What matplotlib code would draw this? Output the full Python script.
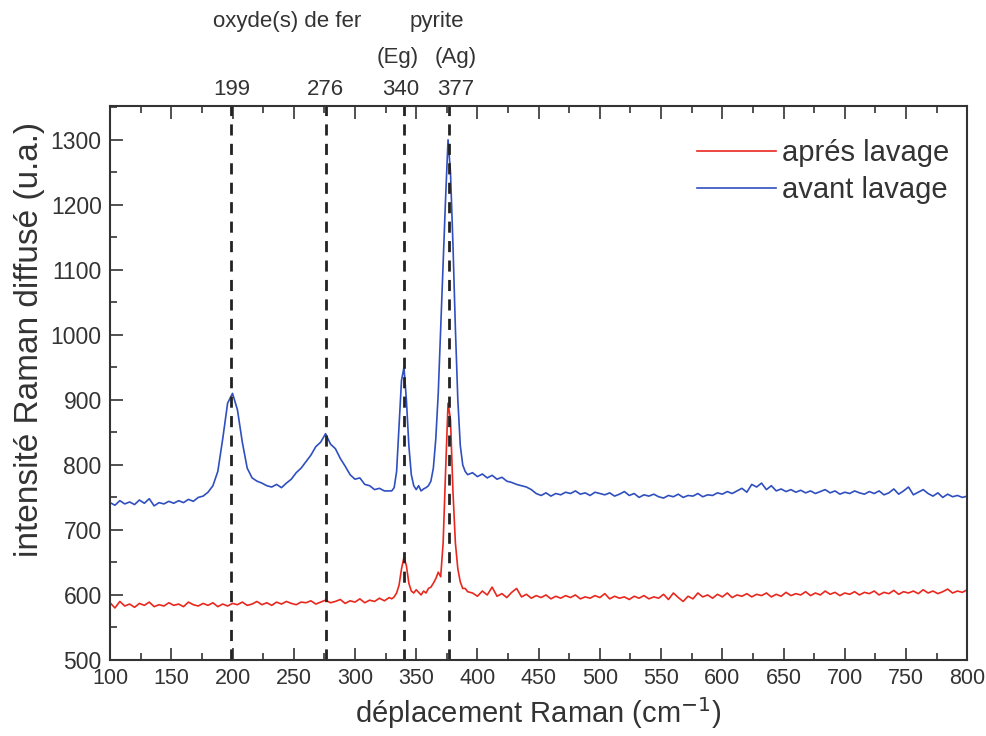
import matplotlib
matplotlib.use("Agg")
import matplotlib.pyplot as plt
from matplotlib.ticker import MultipleLocator

plt.rcParams['font.family'] = ['Liberation Sans', 'DejaVu Sans']

# sampling grid (cm-1)
wavenumber = list(range(100, 330, 4)) + list(range(330, 394, 2)) + list(range(396, 801, 4))

# avant lavage (blue)
blue_low = [742, 738, 745, 740, 743, 739, 746, 741, 748, 737,
            742, 740, 744, 741, 745, 742, 747, 744, 750, 752,
            758, 768, 790, 840, 895, 910, 885, 835, 795, 780,
            775, 772, 768, 766, 770, 765, 772, 778, 788, 795,
            805, 815, 828, 835, 848, 832, 825, 810, 798, 785,
            778, 780, 770, 768, 762, 764, 760, 760]
blue_mid = [760, 765, 790, 860, 930, 950, 900, 830, 785, 768,
            762, 768, 760, 763, 765, 768, 775, 795, 840, 910,
            1010, 1110, 1210, 1300, 1250, 1140, 1010, 900, 830, 800,
            790, 785]
blue_high = [788, 782, 786, 780, 784, 778, 781, 775, 773, 770,
             768, 766, 762, 756, 753, 757, 752, 756, 754, 758,
             756, 760, 755, 757, 753, 758, 756, 754, 757, 752,
             755, 759, 753, 756, 750, 754, 752, 755, 751, 749,
             753, 751, 755, 750, 753, 752, 756, 751, 754, 753,
             757, 755, 759, 756, 760, 764, 758, 770, 766, 772,
             762, 768, 760, 763, 759, 762, 758, 761, 757, 760,
             756, 759, 762, 757, 760, 755, 758, 756, 760, 757,
             755, 759, 756, 760, 754, 757, 763, 755, 760, 766,
             754, 758, 762, 756, 752, 757, 750, 755, 751, 753,
             750, 752]
avant = blue_low + blue_mid + blue_high

# apres lavage (red)
red_low = [588, 580, 590, 583, 586, 581, 587, 584, 589, 582,
           585, 583, 588, 584, 586, 582, 589, 585, 583, 587,
           584, 588, 582, 586, 583, 587, 585, 589, 584, 586,
           590, 585, 588, 584, 589, 586, 590, 587, 585, 589,
           588, 591, 586, 589, 592, 588, 590, 593, 587, 591,
           589, 594, 588, 592, 590, 595, 591, 596]
red_mid = [594, 597, 603, 615, 640, 658, 645, 618, 606, 603,
           608, 604, 600, 606, 603, 610, 612, 618, 625, 635,
           628, 680, 790, 895, 870, 760, 680, 640, 620, 610,
           610, 605]
red_high = [603, 598, 606, 600, 612, 598, 602, 596, 604, 610,
            597, 601, 595, 599, 596, 600, 594, 598, 595, 599,
            596, 600, 594, 597, 595, 599, 596, 602, 594, 598,
            595, 597, 593, 598, 595, 599, 594, 597, 595, 601,
            593, 603, 596, 590, 598, 594, 603, 597, 600, 595,
            601, 597, 603, 596, 600, 598, 602, 597, 601, 599,
            603, 597, 601, 598, 604, 599, 602, 600, 605, 599,
            603, 600, 606, 601, 604, 599, 603, 601, 605, 600,
            604, 602, 606, 600, 604, 602, 607, 601, 605, 603,
            606, 602, 608, 603, 606, 602, 605, 609, 603, 606,
            604, 608]
apres = red_low + red_mid + red_high

peaks = [199, 276, 340, 377]
peak_labels = ["199", "276", "340", "377"]

fig = plt.figure(figsize=(9.87, 7.36), dpi=100)
ax = fig.add_axes([0.1115, 0.1033, 0.8685, 0.7527])

ax.plot(wavenumber, apres, color="#e8281e", lw=1.2, label="aprés lavage")
ax.plot(wavenumber, avant, color="#2f4fbf", lw=1.2, label="avant lavage")

for p in peaks:
    ax.axvline(p, color="#222222", lw=2.0, ls=(0, (4, 3)))

ax.set_xlim(100, 800)
ax.set_ylim(500, 1352)
ax.xaxis.set_major_locator(MultipleLocator(50))
ax.xaxis.set_minor_locator(MultipleLocator(25))
ax.yaxis.set_major_locator(MultipleLocator(100))
ax.yaxis.set_minor_locator(MultipleLocator(50))
ax.tick_params(which="both", direction="in", top=True, right=False,
               colors="#333333", width=1.2, labelcolor="#333333")
ax.tick_params(which="major", length=9, pad=6)
ax.tick_params(axis="y", which="major", labelsize=16.5)
ax.tick_params(axis="x", which="major", labelsize=15.5)
ax.tick_params(which="minor", length=5)
for s in ax.spines.values():
    s.set_color("#333333")
    s.set_linewidth(1.5)

ax.set_xlabel("déplacement Raman (cm$^{-1}$)", fontsize=21, color="#333333", labelpad=4)
ax.set_ylabel("intensité Raman diffusé (u.a.)", fontsize=24, color="#333333")
ax.yaxis.set_label_coords(-0.076, 0.578)

# annotations above the plot
trans = ax.get_xaxis_transform()
label_x = {199: 199, 276: 276, 340: 337, 377: 382}
for p, t in zip(peaks, peak_labels):
    ax.text(label_x[p], 1.029, t, transform=trans, ha="center", va="center",
            fontsize=16, color="#333333")
ax.text(334.5, 1.088, "(Eg)", transform=trans, ha="center", va="center", fontsize=16, color="#333333")
ax.text(382, 1.088, "(Ag)", transform=trans, ha="center", va="center", fontsize=16, color="#333333")
ax.text(245, 1.152, "oxyde(s) de fer", transform=trans, ha="center", va="center", fontsize=16, color="#333333")
ax.text(367, 1.152, "pyrite", transform=trans, ha="center", va="center", fontsize=16, color="#333333")

leg = ax.legend(loc="upper left", frameon=False, fontsize=21, handlelength=2.7,
                bbox_to_anchor=(0.685, 0.94), borderpad=0, borderaxespad=0,
                labelspacing=0.3, handletextpad=0.2, labelcolor="#333333")

fig.savefig("out.png", dpi=100)
